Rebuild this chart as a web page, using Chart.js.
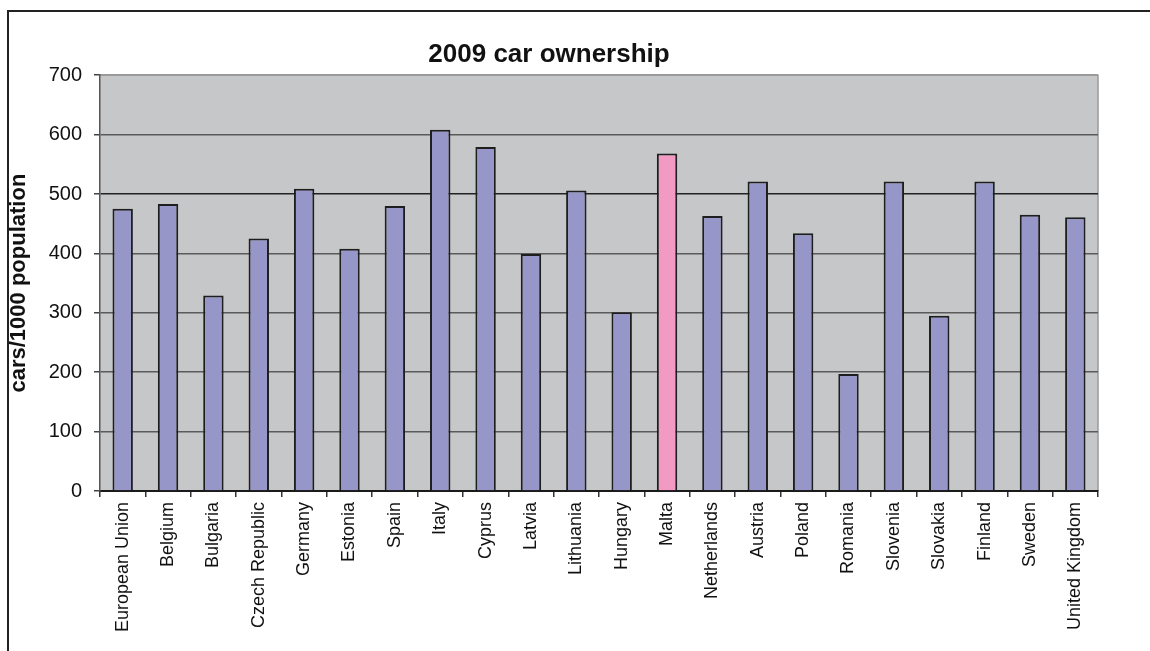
<!DOCTYPE html>
<html>
<head>
<meta charset="utf-8">
<script src="https://cdn.jsdelivr.net/npm/chart.js@4/dist/chart.umd.min.js"></script>
<style>
  html, body { margin: 0; padding: 0; background: #fff; overflow: hidden; }
  #frame {
    position: absolute; left: 7px; top: 10px;
    width: 1200px; height: 700px;
    border: 2px solid #222;
  }
  #wrap { position: absolute; left: 0; top: 0; width: 1150px; height: 651px; }
</style>
</head>
<body>
<div id="frame"></div>
<div id="wrap"><canvas id="carChart" width="1150" height="651"></canvas></div>
<script>
// 국가 목록과 2009년 자동차 보유 대수 (1000명당)
const countries = ['European Union', 'Belgium', 'Bulgaria', 'Czech Republic', 'Germany', 'Estonia',
    'Spain', 'Italy', 'Cyprus', 'Latvia', 'Lithuania', 'Hungary', 'Malta', 'Netherlands', 'Austria',
    'Poland', 'Romania', 'Slovenia', 'Slovakia', 'Finland', 'Sweden', 'United Kingdom'];
const carsPer1000 = [475, 483, 329, 425, 509, 408, 480, 608, 579, 399, 506, 301, 568, 463, 521,
    434, 197, 521, 295, 521, 465, 461];
const highlighted = 'Malta';
const yTicks = [0, 100, 200, 300, 400, 500, 600, 700];

const FONT = "'Liberation Sans', Arial, sans-serif";

// 플롯 영역 배경 + 위/오른쪽 테두리
const plotBackground = {
    id: 'plotBackground',
    beforeDraw(chart) {
        const { ctx, chartArea: a } = chart;
        ctx.save();
        ctx.fillStyle = '#c6c7c9';
        ctx.fillRect(a.left, a.top, a.right - a.left, a.bottom - a.top);
        ctx.strokeStyle = '#9a9a9a';
        ctx.lineWidth = 1.5;
        ctx.beginPath();
        ctx.moveTo(a.left, a.top);
        ctx.lineTo(a.right, a.top);
        ctx.lineTo(a.right, a.bottom);
        ctx.stroke();
        ctx.restore();
    },
};

const ctx = document.getElementById('carChart').getContext('2d');
new Chart(ctx, {
    type: 'bar',
    data: {
        labels: countries,
        datasets: [
            {
                label: 'cars/1000 population',
                data: carsPer1000,
                backgroundColor: countries.map((c) => (c === highlighted ? '#f29ac4' : '#9696c9')),
                borderColor: '#1e1e1e',
                borderWidth: 2,
                barPercentage: 0.45,
                categoryPercentage: 1,
            },
        ],
    },
    options: {
        responsive: false,
        animation: false,
        layout: { padding: { left: 0, right: 52, top: 0, bottom: 0 } },
        plugins: {
            legend: { display: false },
            tooltip: { enabled: false },
            title: {
                display: true,
                text: '2009 car ownership',
                color: '#111',
                font: { family: FONT, size: 26, weight: 'bold' },
                padding: { top: 39, bottom: 5 },
            },
        },
        scales: {
            x: {
                grid: {
                    offset: true,
                    drawOnChartArea: false,
                    drawTicks: true,
                    tickLength: 6,
                    tickColor: '#333',
                    lineWidth: 1.5,
                },
                border: { color: '#1a1a1a', width: 2 },
                ticks: {
                    autoSkip: false,
                    minRotation: 90,
                    maxRotation: 90,
                    padding: 5,
                    color: '#111',
                    font: { family: FONT, size: 18 },
                },
                afterFit(scale) {
                    scale.height = 160;
                },
            },
            y: {
                min: 0,
                max: 700,
                afterBuildTicks(scale) {
                    scale.ticks = yTicks.map((v) => ({ value: v }));
                },
                grid: {
                    color: (c) => (c.tick.value === 500 ? '#222' : c.tick.value === 700 ? '#9a9a9a' : '#5a5a5a'),
                    tickColor: '#444',
                    lineWidth: 1.5,
                    tickLength: 6,
                },
                border: { color: '#555', width: 1.5 },
                ticks: {
                    padding: 12,
                    color: '#111',
                    font: { family: FONT, size: 20 },
                },
                title: {
                    display: true,
                    text: 'cars/1000 population',
                    color: '#111',
                    font: { family: FONT, size: 22, weight: 'bold' },
                    padding: { top: 6, bottom: 0 },
                },
                afterFit(scale) {
                    scale.width = 100;
                },
            },
        },
    },
    plugins: [plotBackground],
});
</script>
</body>
</html>
